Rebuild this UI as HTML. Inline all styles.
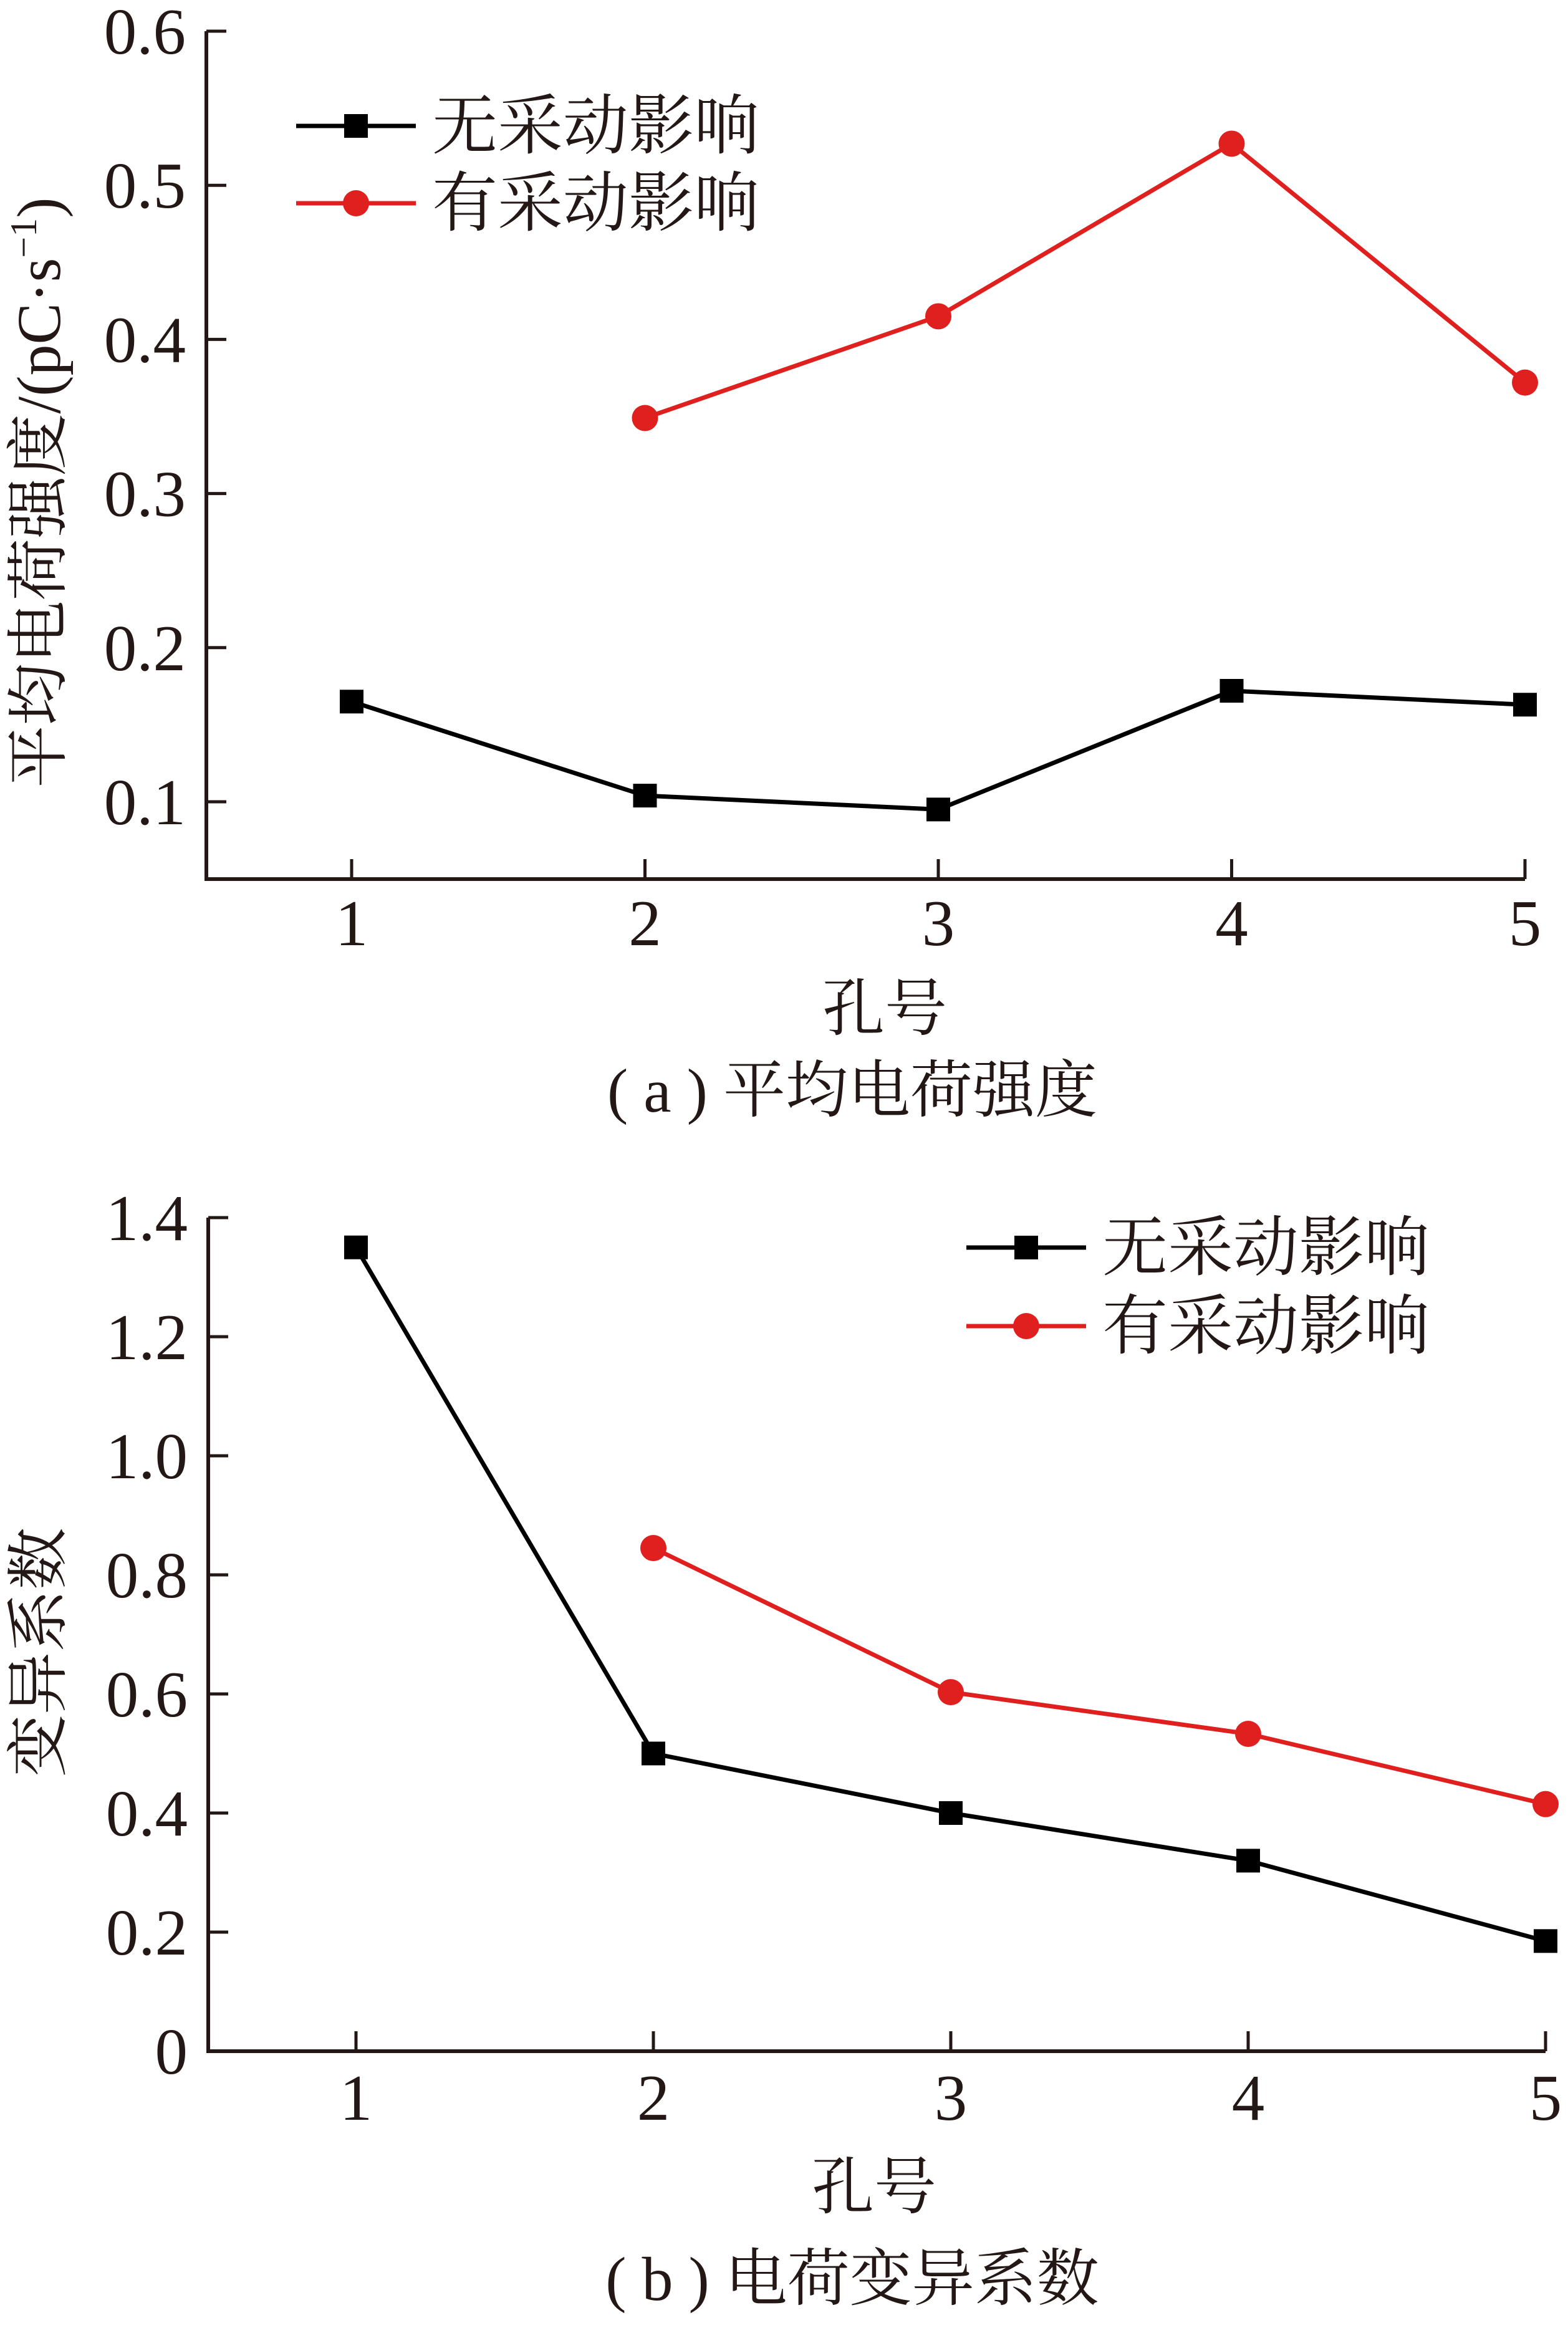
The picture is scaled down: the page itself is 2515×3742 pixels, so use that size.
<!DOCTYPE html>
<html><head><meta charset="utf-8"><style>
html,body{margin:0;padding:0;background:#fff}
svg{display:block}
.t{font-family:"Liberation Serif","Noto Serif CJK SC",serif;fill:#231815}
.c{font-family:"Liberation Serif","Noto Serif CJK SC","Noto Sans CJK SC",serif;fill:#231815}
</style></head><body>
<svg id="fig" width="2515" height="3742" viewBox="0 0 2515 3742" xmlns="http://www.w3.org/2000/svg">
<text class="c" x="0" y="0" font-size="100" text-anchor="middle" transform="translate(96,790) rotate(-90)">平均电荷强度/(pC·s<tspan font-size="60" dy="-38">−1</tspan><tspan dy="38">)</tspan></text>
<text class="c" x="1419" y="1652" font-size="100" text-anchor="middle">孔号</text>
<text class="c" x="1367" y="1783" font-size="100" text-anchor="middle">( a ) 平均电荷强度</text>
<text class="c" x="0" y="0" font-size="100" text-anchor="middle" transform="translate(96,2650) rotate(-90)">变异系数</text>
<text class="c" x="1402" y="3542" font-size="100" text-anchor="middle">孔号</text>
<text class="c" x="1367" y="3689" font-size="100" text-anchor="middle">( b ) 电荷变异系数</text>
</svg>
<script>
const holes = [1, 2, 3, 4, 5];
const meanNoMining = [0.165, 0.104, 0.095, 0.172, 0.163];
const meanMining = [null, 0.349, 0.415, 0.527, 0.372];
const cvNoMining = [1.35, 0.50, 0.40, 0.32, 0.185];
const cvMining = [null, 0.845, 0.603, 0.533, 0.415];
const ticksA = ["0.1", "0.2", "0.3", "0.4", "0.5", "0.6"];
const ticksB = ["0", "0.2", "0.4", "0.6", "0.8", "1.0", "1.2", "1.4"];
const seriesNames = ["无采动影响", "有采动影响"];

const NS = "http://www.w3.org/2000/svg";
const svg = document.getElementById("fig");
function mk(tag, attrs, parent) {
  const e = document.createElementNS(NS, tag);
  for (const k in attrs) e.setAttribute(k, attrs[k]);
  (parent || svg).appendChild(e);
  return e;
}
function chart(id, cfg, ticks, s1, s2) {
  const g = mk("g", {});
  
  
  const xs = v => cfg.x1 + (v - 1) * (cfg.x5 - cfg.x1) / 4;
  const ys = v => cfg.yA + (v - cfg.vA) * (cfg.yB - cfg.yA) / (cfg.vB - cfg.vA);
  const ax = mk("path", {d: `M${cfg.left},${cfg.top} V${cfg.bottom} H${cfg.x5}`, fill: "none", stroke: "#231815", "stroke-width": 6}, g);
  
  
  ticks.forEach(t => {
    const y = ys(parseFloat(t));
    const tk = mk("line", {x1: cfg.left, x2: cfg.left + 32, y1: y, y2: y, stroke: "#231815", "stroke-width": 5}, g);
    
    
    const tl = mk("text", {x: cfg.left - 33, y: y + 36, "font-size": 105, "text-anchor": "end", class: "t"}, g);
    
    
    tl.textContent = t;
  });
  holes.forEach(h => {
    const x = xs(h);
    const tk = mk("line", {x1: x, x2: x, y1: cfg.bottom, y2: cfg.bottom - 32, stroke: "#231815", "stroke-width": 5}, g);
    
    
    const tl = mk("text", {x: x, y: cfg.xlab, "font-size": 105, "text-anchor": "middle", class: "t"}, g);
    
    
    tl.textContent = String(h);
  });
  [[s1, "#000", "sq"], [s2, "#e0201f", "ci"]].forEach(([s, col, m], si) => {
    const pts = [];
    s.forEach((v, i) => { if (v !== null) pts.push([xs(holes[i]), ys(v)]); });
    const ln = mk("polyline", {points: pts.map(p => p.join(",")).join(" "), fill: "none", stroke: col, "stroke-width": 7}, g);
    
    
    pts.forEach(p => {
      let mkr;
      if (m === "sq") mkr = mk("rect", {x: p[0] - 19, y: p[1] - 19, width: 38, height: 38, fill: col}, g);
      else mkr = mk("circle", {cx: p[0], cy: p[1], r: 21, fill: col}, g);
      
      
    });
    const ly = cfg.legY[si];
    const ll = mk("line", {x1: cfg.legX, x2: cfg.legX + 192, y1: ly, y2: ly, stroke: col, "stroke-width": 7}, g);
    
    
    let lm;
    if (m === "sq") lm = mk("rect", {x: cfg.legX + 77, y: ly - 19, width: 38, height: 38, fill: col}, g);
    else lm = mk("circle", {cx: cfg.legX + 96, cy: ly, r: 21, fill: col}, g);
    
    
    const lt = mk("text", {x: cfg.legX + 218, y: ly + 36, "font-size": 105, class: "c"}, g);
    
    
    lt.textContent = seriesNames[si];
  });
}
chart("a", {left: 331, top: 50, bottom: 1410, x1: 564, x5: 2446, yA: 1286, vA: 0.1, yB: 50, vB: 0.6, xlab: 1516, legX: 475, legY: [202, 326]}, ticksA, meanNoMining, meanMining);
chart("b", {left: 334, top: 1953, bottom: 3290, x1: 571, x5: 2479, yA: 3290, vA: 0, yB: 1953, vB: 1.4, xlab: 3400, legX: 1550, legY: [2001, 2127]}, ticksB, cvNoMining, cvMining);
</script>
</body></html>
